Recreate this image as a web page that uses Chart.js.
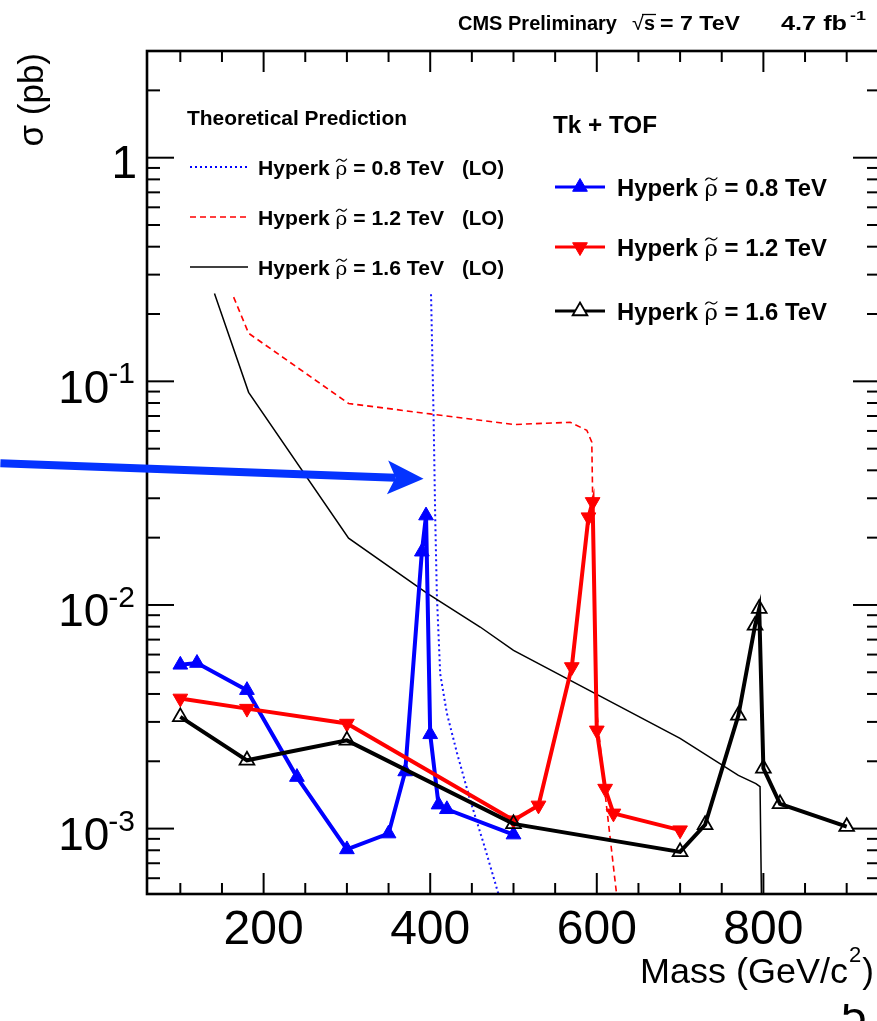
<!DOCTYPE html>
<html><head><meta charset="utf-8">
<script src="https://cdn.jsdelivr.net/npm/chart.js@4.4.1/dist/chart.umd.min.js"></script>
<style>
html,body{margin:0;padding:0;background:#fff;overflow:hidden;width:877px;height:1021px;}
canvas{display:block;}
</style></head><body>
<canvas id="c" width="900" height="1021" style="width:900px;height:1021px"></canvas>
<script>
// ---------- axis ranges & tick labels ----------
const xRange = [60, 940];
const yRange = [5.1e-4, 3];
const xTickValues = [200, 400, 600, 800];
const xTickLabels = ['200', '400', '600', '800'];
const yTickValues = [1e-3, 1e-2, 1e-1, 1];
const yTickBase = ['10', '10', '10', '1'];
const yTickExp = ['-3', '-2', '-1', ''];

// ---------- Tk + TOF measured cross-section limits ----------
const mass08 = [100, 120, 180, 240, 300, 350, 370, 390, 395, 400, 410, 420, 500];
const sigma08 = [0.0054, 0.0055, 0.00416, 0.0017, 0.000807, 0.00095, 0.0018, 0.0173, 0.0251, 0.00264, 0.00128, 0.00122, 0.00094];
const mass12 = [100, 180, 300, 500, 530, 570, 590, 595, 600, 610, 620, 700];
const sigma12 = [0.00382, 0.00344, 0.00295, 0.00109, 0.00127, 0.00528, 0.0247, 0.0289, 0.00275, 0.00151, 0.00117, 0.000984];
const mass16 = [100, 180, 300, 500, 700, 730, 770, 790, 795, 800, 820, 900];
const sigma16 = [0.00316, 0.00202, 0.00248, 0.00105, 0.000787, 0.00104, 0.00321, 0.0081, 0.00963, 0.00186, 0.00129, 0.00102];

// ---------- Theoretical prediction (LO) ----------
const thMass08 = [401, 404, 406, 408, 412, 420, 432, 448, 464, 482];
const thSigma08 = [0.245, 0.0713, 0.0249, 0.01105, 0.00492, 0.00328, 0.00219, 0.00134, 0.000861, 0.000509];
const thMass12 = [164, 182, 302, 400, 500, 568, 588, 594, 597, 600, 610, 624];
const thSigma12 = [0.238, 0.164, 0.0796, 0.0715, 0.0641, 0.0656, 0.0604, 0.0535, 0.01, 0.0033, 0.00143, 0.0005];
const thMass16 = [141, 182, 302, 396, 460, 500, 700, 770, 791, 796, 799];
const thSigma16 = [0.247, 0.0893, 0.0199, 0.0113, 0.00797, 0.00627, 0.00253, 0.00173, 0.00159, 0.00154, 0.0002];

// ---------- annotation arrow (data coordinates) ----------
const arrowFrom = [-116, 0.043];
const arrowTo = [392, 0.0367];

const FONT = '"Liberation Sans", Arial, Helvetica, sans-serif';
const BLUE = '#0000ff', RED = '#ff0000', BLACK = '#000000';

const pts = (xs, ys) => xs.map((v, i) => ({x: v, y: ys[i]}));

function txt(ctx, text, x, y, font, width, align) {
  ctx.font = font; ctx.textAlign = align || 'left'; ctx.textBaseline = 'alphabetic';
  const m = ctx.measureText(text).width;
  if (width) {
    ctx.save(); ctx.translate(x, y); ctx.scale(width / m, 1); ctx.fillText(text, 0, 0); ctx.restore();
    return x + width;
  }
  ctx.fillText(text, x, y); return x + m;
}

// "Hyperk rho~ = M TeV" fitted to a target width
function hyperk(ctx, x, base, size, mass, width) {
  const bold = 'bold ' + size + 'px ' + FONT;
  const rs = Math.round(size * 0.95);
  const reg = rs + 'px "DejaVu Serif", serif';
  const a = 'Hyperk ', c = ' = ' + mass + ' TeV';
  ctx.font = bold; const wa = ctx.measureText(a).width, wc = ctx.measureText(c).width;
  ctx.font = reg; const wb = ctx.measureText('ρ').width;
  const W = wa + wb + wc;
  ctx.save(); ctx.translate(x, base); ctx.scale(width / W, 1);
  ctx.textAlign = 'left'; ctx.textBaseline = 'alphabetic';
  ctx.font = bold; ctx.fillText(a, 0, 0);
  ctx.font = reg; ctx.fillText('ρ', wa, 0);
  const cx = wa + wb / 2, ty = -size * 0.74, w = wb * 0.9;
  ctx.beginPath(); ctx.lineWidth = 1.2; ctx.strokeStyle = '#000';
  ctx.moveTo(cx - w / 2, ty + 1.5);
  ctx.quadraticCurveTo(cx - w / 4, ty - 2.5, cx, ty);
  ctx.quadraticCurveTo(cx + w / 4, ty + 2.5, cx + w / 2, ty - 1.5);
  ctx.stroke();
  ctx.font = bold; ctx.fillText(c, wa + wb, 0);
  ctx.restore();
}

function marker(ctx, cx, cy, r, rot, fill, stroke, lw) {
  ctx.save(); ctx.translate(cx, cy); ctx.rotate(rot * Math.PI / 180);
  ctx.beginPath();
  for (let k = 0; k < 3; k++) {
    const a = k * 2 * Math.PI / 3;
    const px = Math.sin(a) * r, py = -Math.cos(a) * r;
    k === 0 ? ctx.moveTo(px, py) : ctx.lineTo(px, py);
  }
  ctx.closePath();
  if (fill) { ctx.fillStyle = fill; ctx.fill(); }
  ctx.lineWidth = lw; ctx.strokeStyle = stroke; ctx.stroke();
  ctx.restore();
}

const decor = {
  id: 'decor',
  afterDatasetsDraw(chart) {
    const {ctx, chartArea: a, scales: {x, y}} = chart;
    ctx.save();
    ctx.strokeStyle = '#000'; ctx.lineWidth = 2; ctx.lineCap = 'butt';
    const seg = (x1, y1, x2, y2) => { ctx.beginPath(); ctx.moveTo(x1, y1); ctx.lineTo(x2, y2); ctx.stroke(); };
    for (let v = Math.ceil(xRange[0] / 50) * 50; v <= xRange[1]; v += 50) {
      const px = x.getPixelForValue(v);
      const len = v % 200 === 0 ? 21 : 11;
      seg(px, a.bottom, px, a.bottom - len);
      seg(px, a.top, px, a.top + len);
    }
    for (let e = -4; e <= 0; e++) for (let m = 1; m <= 9; m++) {
      const v = m * Math.pow(10, e);
      if (v < yRange[0] || v > yRange[1]) continue;
      const py = y.getPixelForValue(v);
      const len = m === 1 ? 27 : 13;
      seg(a.left, py, a.left + len, py);
      seg(a.right, py, a.right - len, py);
    }
    ctx.lineWidth = 2.6;
    ctx.strokeRect(a.left, a.top, a.right - a.left, a.bottom - a.top);

    ctx.fillStyle = '#000';
    xTickValues.forEach((v, i) => {
      txt(ctx, xTickLabels[i], x.getPixelForValue(v), a.bottom + 50, '48px ' + FONT, null, 'center');
    });
    yTickValues.forEach((v, i) => {
      const py = y.getPixelForValue(v);
      if (yTickExp[i]) {
        ctx.font = '30px ' + FONT; ctx.textAlign = 'right';
        const ew = ctx.measureText(yTickExp[i]).width;
        ctx.fillText(yTickExp[i], 135, py + 2);
        txt(ctx, yTickBase[i], 135 - ew + 1, py + 21.5, '46px ' + FONT, null, 'right');
      } else {
        txt(ctx, yTickBase[i], 137, py + 20.5, '46px ' + FONT, null, 'right');
      }
    });
    ctx.save(); ctx.translate(43, 53); ctx.rotate(-Math.PI / 2);
    txt(ctx, 'σ (pb)', 0, 0, '35px ' + FONT, null, 'right');
    ctx.restore();
    let xx = txt(ctx, 'Mass (GeV/c', 640, 983, '35px ' + FONT, 208);
    xx = txt(ctx, '2', xx + 1, 962, '22px ' + FONT);
    txt(ctx, ')', xx + 1, 983, '35px ' + FONT);

    // header
    const hb = 'bold 20px ' + FONT;
    txt(ctx, 'CMS Preliminary', 458, 30, hb, 159);
    txt(ctx, '√', 632, 30, '20px ' + FONT, 12);
    txt(ctx, 's', 644, 30, hb, 11);
    ctx.lineWidth = 1.3; seg(642, 14.5, 656, 14.5);
    txt(ctx, '= 7 TeV', 660, 30, hb, 80);
    txt(ctx, '4.7 fb', 781, 30, hb, 66);
    txt(ctx, '-1', 850, 20, 'bold 13px ' + FONT, 16);

    // legend: theoretical prediction
    txt(ctx, 'Theoretical Prediction', 187, 125, 'bold 20px ' + FONT, 220);
    const thRows = [
      {y: 167, color: BLUE, dash: [2, 3], w: 2, m: '0.8'},
      {y: 217, color: RED, dash: [6, 4], w: 1.6, m: '1.2'},
      {y: 267, color: BLACK, dash: [], w: 1.5, m: '1.6'}
    ];
    thRows.forEach(r => {
      ctx.save(); ctx.strokeStyle = r.color; ctx.lineWidth = r.w; ctx.setLineDash(r.dash);
      seg(190, r.y, 248, r.y); ctx.restore();
      ctx.fillStyle = '#000';
      hyperk(ctx, 258, r.y + 8, 20, r.m, 186);
      txt(ctx, '(LO)', 462, r.y + 8, 'bold 20px ' + FONT, 42);
    });

    // legend: Tk + TOF
    txt(ctx, 'Tk + TOF', 553, 133, 'bold 23px ' + FONT, 104);
    const dRows = [
      {y: 187, color: BLUE, rot: 0, fill: BLUE, lw: 1, m: '0.8'},
      {y: 247, color: RED, rot: 180, fill: RED, lw: 1, m: '1.2'},
      {y: 311, color: BLACK, rot: 0, fill: '#fff', lw: 1.8, m: '1.6'}
    ];
    dRows.forEach(r => {
      ctx.save(); ctx.strokeStyle = r.color; ctx.lineWidth = 3; seg(555, r.y, 605, r.y); ctx.restore();
      marker(ctx, 580, r.y, 8.5, r.rot, r.fill, r.color, r.lw);
      ctx.fillStyle = '#000';
      hyperk(ctx, 617, r.y + 9, 23, r.m, 210);
    });
    ctx.restore();
  },
  afterDraw(chart) {
    const {ctx, scales: {x, y}} = chart;
    // page number fragment (partly hidden)
    ctx.save();
    ctx.beginPath(); ctx.rect(800, 1004, 100, 40); ctx.clip();
    ctx.fillStyle = '#000';
    txt(ctx, '5', 841, 1030, '46px ' + FONT);
    ctx.restore();
    // arrow annotation
    const x0 = x.getPixelForValue(arrowFrom[0]), y0 = y.getPixelForValue(arrowFrom[1]);
    const x1 = x.getPixelForValue(arrowTo[0]), y1 = y.getPixelForValue(arrowTo[1]);
    const ang = Math.atan2(y1 - y0, x1 - x0);
    ctx.save(); ctx.translate(x1, y1); ctx.rotate(ang);
    const len = Math.hypot(x1 - x0, y1 - y0);
    ctx.fillStyle = '#0433ff';
    ctx.beginPath();
    ctx.moveTo(-len, -4); ctx.lineTo(-28, -4); ctx.lineTo(-28, 4); ctx.lineTo(-len, 4); ctx.closePath(); ctx.fill();
    ctx.beginPath();
    ctx.moveTo(0, 0); ctx.lineTo(-36, -17); ctx.lineTo(-28, 0); ctx.lineTo(-36, 17); ctx.closePath(); ctx.fill();
    ctx.restore();
  }
};

new Chart(document.getElementById('c'), {
  type: 'line',
  data: {
    datasets: [
      {label: 'Tk+TOF 1.6', data: pts(mass16, sigma16), order: 1, borderColor: BLACK, borderWidth: 4,
       pointStyle: 'triangle', pointRadius: 8.5, pointBackgroundColor: 'rgba(0,0,0,0)', pointBorderColor: BLACK, pointBorderWidth: 1.8},
      {label: 'Tk+TOF 1.2', data: pts(mass12, sigma12), order: 2, borderColor: RED, borderWidth: 4,
       pointStyle: 'triangle', pointRotation: 180, pointRadius: 8.5, pointBackgroundColor: RED, pointBorderColor: RED, pointBorderWidth: 1},
      {label: 'Tk+TOF 0.8', data: pts(mass08, sigma08), order: 3, borderColor: BLUE, borderWidth: 4,
       pointStyle: 'triangle', pointRadius: 8.5, pointBackgroundColor: BLUE, pointBorderColor: BLUE, pointBorderWidth: 1},
      {label: 'LO 1.6', data: pts(thMass16, thSigma16), order: 4, borderColor: BLACK, borderWidth: 1.5, pointRadius: 0},
      {label: 'LO 1.2', data: pts(thMass12, thSigma12), order: 5, borderColor: RED, borderWidth: 1.6, borderDash: [6, 4], pointRadius: 0},
      {label: 'LO 0.8', data: pts(thMass08, thSigma08), order: 6, borderColor: 'rgb(20,20,255)', borderWidth: 2, borderDash: [2, 3], pointRadius: 0}
    ]
  },
  options: {
    responsive: false, devicePixelRatio: 1, animation: false,
    layout: {padding: {left: 147, top: 51, right: 20, bottom: 127}},
    plugins: {legend: {display: false}, tooltip: {enabled: false}},
    elements: {line: {tension: 0, fill: false}},
    scales: {
      x: {type: 'linear', min: xRange[0], max: xRange[1], display: false},
      y: {type: 'logarithmic', min: yRange[0], max: yRange[1], display: false}
    }
  },
  plugins: [decor]
});
</script>
</body></html>
